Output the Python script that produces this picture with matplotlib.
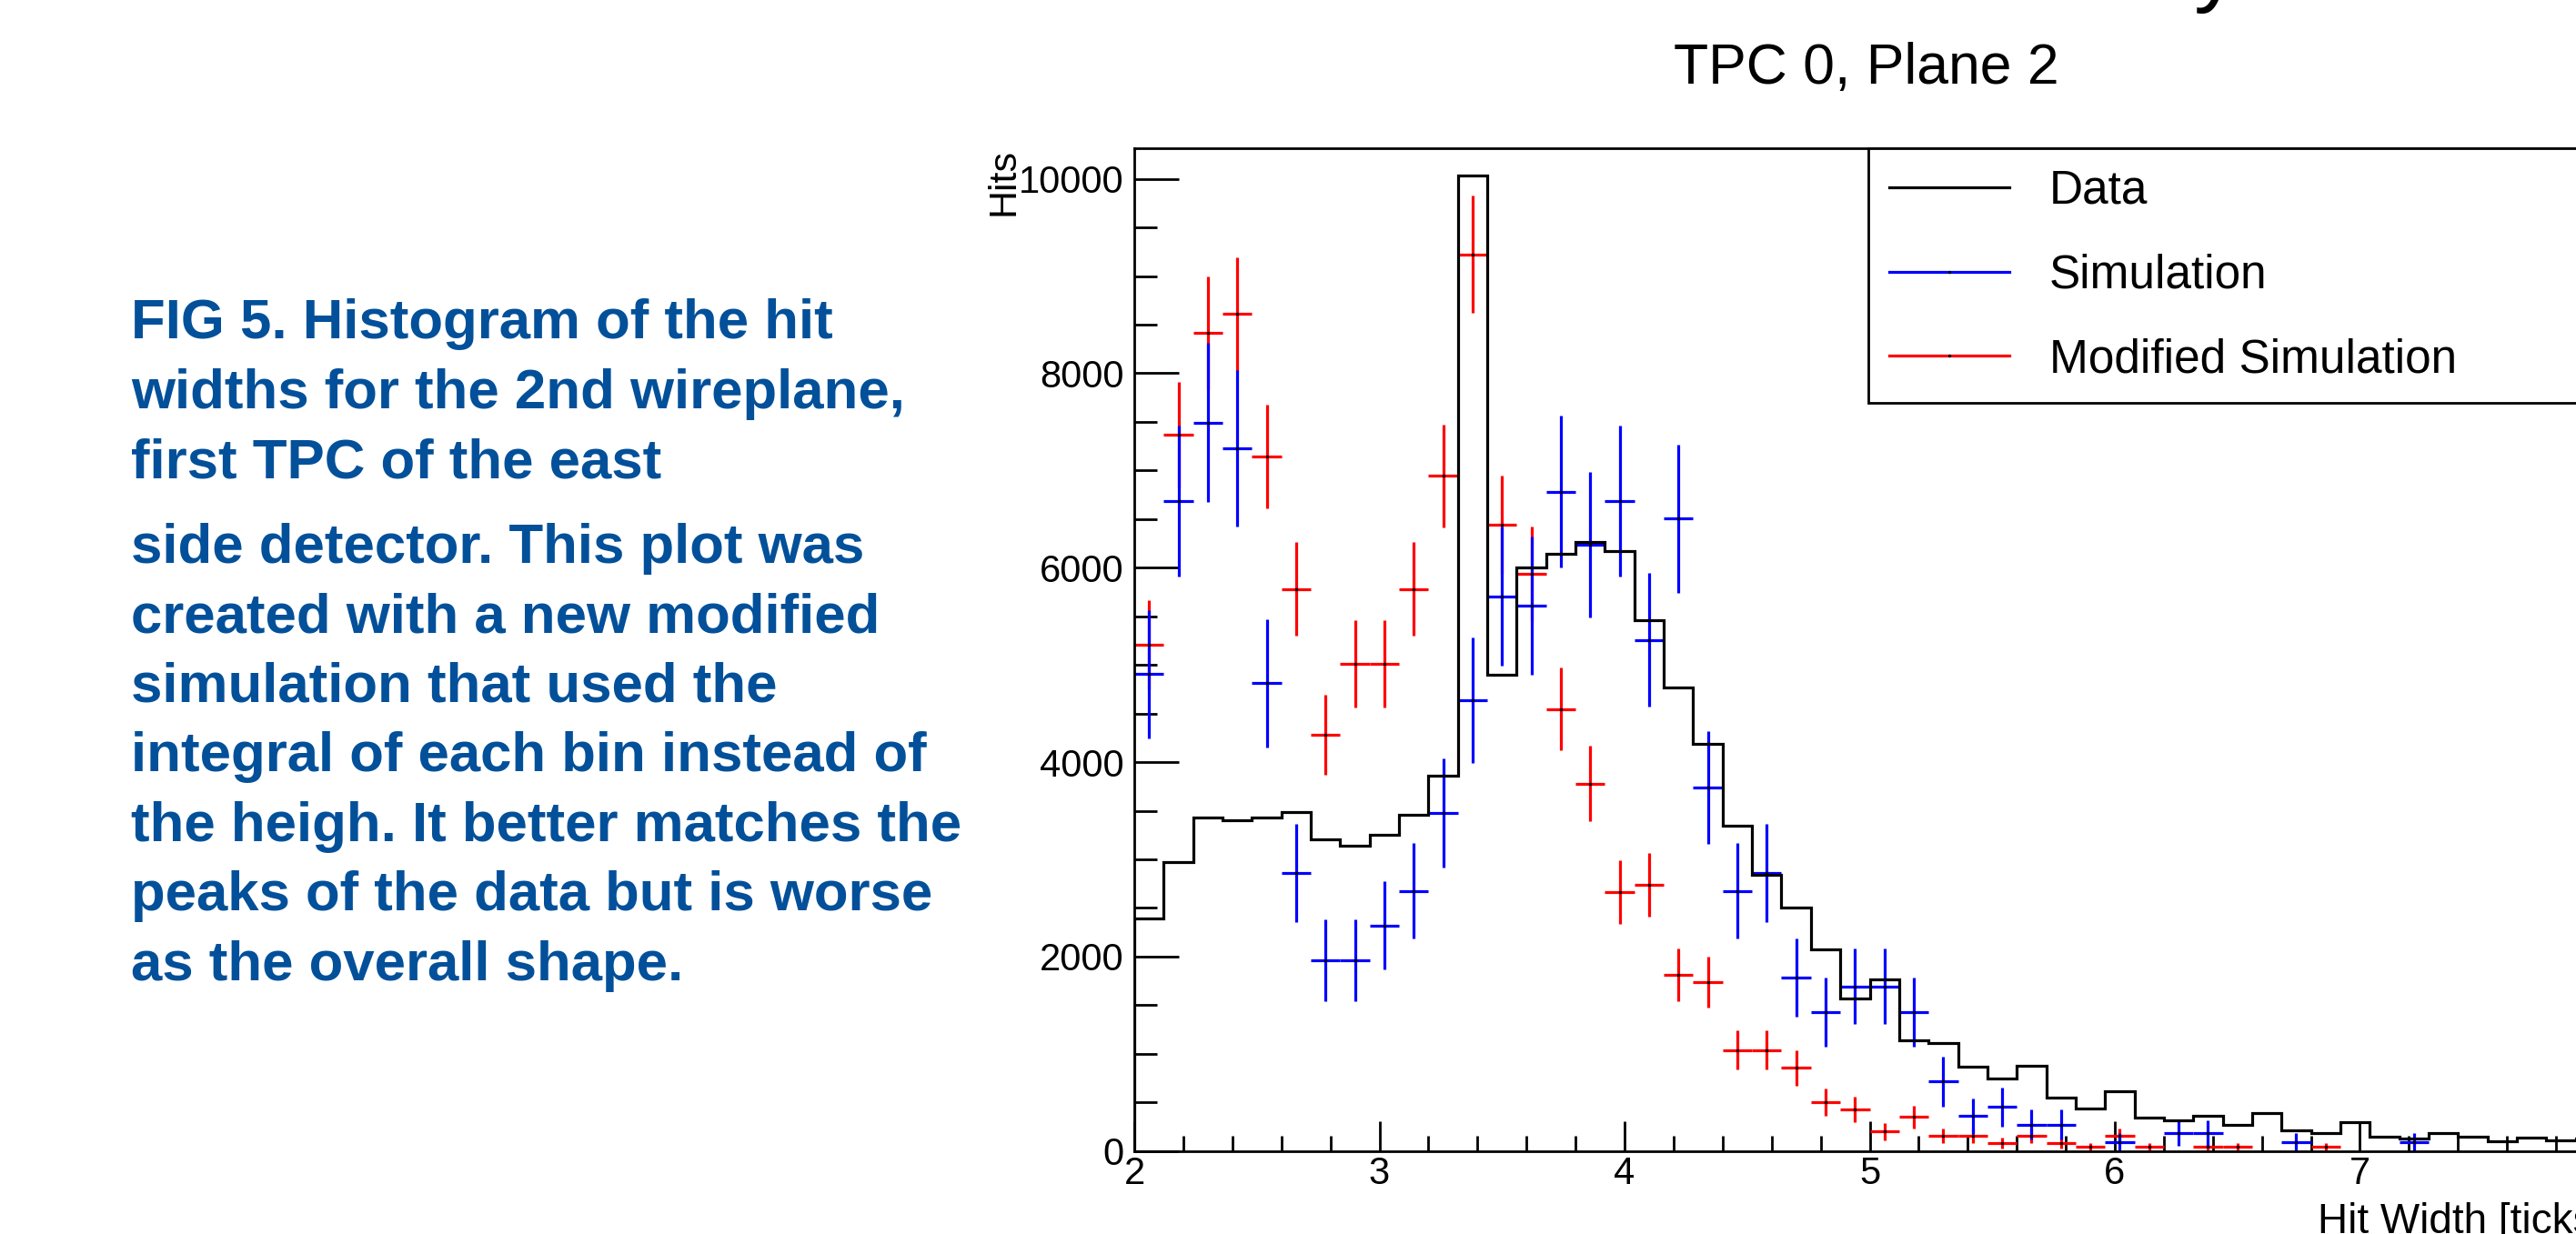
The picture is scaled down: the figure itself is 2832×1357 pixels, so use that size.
import numpy as np
import matplotlib
matplotlib.use("Agg")
import matplotlib.pyplot as plt
from matplotlib.lines import Line2D
from matplotlib.ticker import MultipleLocator

plt.rcParams['font.family'] = ['Liberation Sans', 'DejaVu Sans']

# ------------------------------------------------------------------ #
# Data: 50 bins of width 0.12 between 2 and 8 ticks

x_min, x_max, n_bins = 2.0, 8.0, 50

data_hits = [2395, 2971, 3426, 3401, 3426, 3485, 3205, 3136, 3251, 3457,
             3861, 10030, 4901, 6006, 6141, 6266, 6172, 5461, 4770, 4185,
             3348, 2840, 2507, 2071, 1570, 1766, 1134, 1106, 863, 748,
             879, 545, 436, 614, 343, 318, 364, 265, 389, 209,
             187, 296, 146, 131, 187, 146, 100, 137, 106, 131]

sim_hits = [4904, 6687, 7494, 7225, 4811, 2856, 1962, 1962, 2320, 2675,
            3478, 4636, 5704, 5611, 6781, 6241, 6687, 5259, 6506, 3743,
            2675, 2856, 1782, 1430, 1695, 1695, 1430, 713, 358, 452,
            271, 271, 0, 93, 0, 184, 184, 0, 0, 93,
            0, 0, 0, 93, 0, 0, 0, 0, 0, 0]

mod_sim_hits = [5206, 7369, 8413, 8609, 7141, 5782, 4282, 5013, 5013, 5782,
                6944, 9225, 6444, 5938, 4546, 3777, 2660, 2738, 1813, 1735,
                1040, 1040, 854, 505, 427, 199, 349, 156, 156, 78,
                156, 78, 44, 156, 44, 0, 44, 44, 0, 0,
                44, 0, 0, 0, 0, 0, 0, 0, 0, 0]

# per-entry weights of the scaled simulations (error = weight * sqrt(content))
sim_weight = 9.47
mod_sim_weight = 6.32

series_labels = ["Data", "Simulation", "Modified Simulation"]

caption_top = ["FIG 5. Histogram of the hit",
               "widths for the 2nd wireplane,",
               "first TPC of the east"]
caption_bottom = ["side detector. This plot was",
                  "created with a new modified",
                  "simulation that used the",
                  "integral of each bin instead of",
                  "the heigh. It better matches the",
                  "peaks of the data but is worse",
                  "as the overall shape."]

# ------------------------------------------------------------------ #

W, H = 2832, 1357
fig = plt.figure(figsize=(W / 100, H / 100), dpi=100)

# axes runs past the right edge of the picture, as in the reference
ax_left, ax_right, ax_top, ax_bottom = 1247, 2864, 162.7, 1265.7
ax = fig.add_axes([ax_left / W, (H - ax_bottom) / H,
                   (ax_right - ax_left) / W, (ax_bottom - ax_top) / H])

edges = np.linspace(x_min, x_max, n_bins + 1)
centers = 0.5 * (edges[:-1] + edges[1:])
half_width = 0.5 * (edges[1] - edges[0])


def draw_points(values, weight, color):
    vals = np.asarray(values, dtype=float)
    keep = vals > 0
    ax.errorbar(centers[keep], vals[keep], xerr=half_width,
                yerr=weight * np.sqrt(vals[keep]),
                fmt='.', color='k', markersize=3,
                ecolor=color, elinewidth=2.3, capsize=0, zorder=2)


draw_points(mod_sim_hits, mod_sim_weight, '#ff0000')
draw_points(sim_hits, sim_weight, '#0000ff')
ax.stairs(data_hits, edges, color='k', linewidth=2.3, zorder=3)

ax.set_xlim(x_min, x_max)
ax.set_ylim(0, 10318)

ax.xaxis.set_major_locator(MultipleLocator(1))
ax.xaxis.set_minor_locator(MultipleLocator(0.2))
ax.yaxis.set_major_locator(MultipleLocator(2000))
ax.yaxis.set_minor_locator(MultipleLocator(500))
ax.tick_params(axis='x', which='major', direction='in', length=24, width=2,
               pad=4, labelsize=30, top=False)
ax.tick_params(axis='x', which='minor', direction='in', length=12, width=2, top=False)
ax.tick_params(axis='y', which='major', direction='in', length=35, width=2,
               pad=8, labelsize=30, right=False)
ax.tick_params(axis='y', which='minor', direction='in', length=18, width=2, right=False)
for sp in ax.spines.values():
    sp.set_linewidth(2)

# legend
handles = [Line2D([], [], color='k', linewidth=2.3),
           Line2D([], [], color='#0000ff', linewidth=2.3, marker='.',
                  markersize=3, mfc='k', mec='k'),
           Line2D([], [], color='#ff0000', linewidth=2.3, marker='.',
                  markersize=3, mfc='k', mec='k')]
leg = ax.legend(handles, series_labels, loc='upper left',
                bbox_to_anchor=(0.4991, 1.0, 0.5009, 0.0), mode='expand',
                borderaxespad=0, fontsize=37, frameon=True, fancybox=False,
                borderpad=0.45, labelspacing=0.85, handlelength=2.57,
                handletextpad=0.85)
leg.get_frame().set_edgecolor('k')
leg.get_frame().set_linewidth(2)
leg.get_frame().set_alpha(1)

# axis titles, placed ROOT-style at the ends of the axes
fig.text(1124 / W, (H - 163) / H, "Hits", rotation=90, ha='right', va='top',
         fontsize=31)
fig.text(ax_right / W, (H - 1356) / H, "Hit Width [ticks]", ha='right',
         va='baseline', fontsize=33)

# titles (the big one is mostly cut off above the picture)
fig.text(2052 / W, (H - 92) / H, "TPC 0, Plane 2", ha='center',
         va='baseline', fontsize=45)
fig.text(2412 / W, (H + 6) / H, "y", ha='left', va='baseline', fontsize=72)

# caption on the left
caption_color = '#03509a'
caption_x = 144
for i, line in enumerate(caption_top):
    fig.text(caption_x / W, (H - (372 + 76.6 * i)) / H, line, ha='left',
             va='baseline', fontsize=44.5, fontweight='bold', color=caption_color)
for i, line in enumerate(caption_bottom):
    fig.text(caption_x / W, (H - (618.5 + 76.6 * i)) / H, line, ha='left',
             va='baseline', fontsize=44.5, fontweight='bold', color=caption_color)

fig.savefig("out.png", dpi=100)
